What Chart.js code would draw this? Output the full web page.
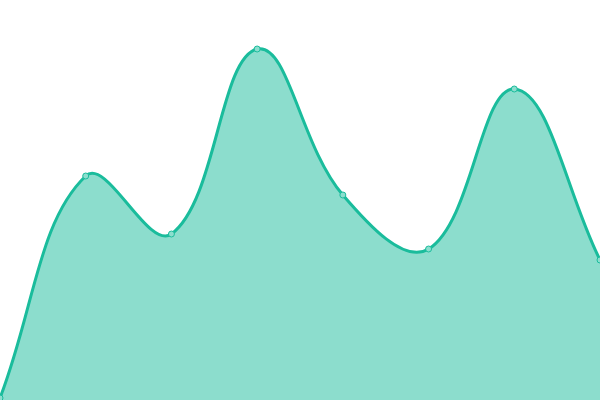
<!DOCTYPE html>
<html>
<head>
<meta charset="utf-8">
<script src="https://cdn.jsdelivr.net/npm/chart.js@4"></script>
<style>
  html, body { margin: 0; padding: 0; background: #fff; }
  #wrap { width: 600px; height: 400px; }
</style>
</head>
<body>
<div id="wrap"><canvas id="AreaChart"></canvas></div>
<script>
// data
var labels = ['1', '2', '3', '4', '5', '6', '7', '8'];
var values = [2, 224, 166, 351, 205, 151, 311, 140];

var lineColor = '#1abc9c';
var fillColor = 'rgba(26, 188, 156, 0.5)';

drawAreaChart();
function drawAreaChart() {
    var ctx = document.getElementById('AreaChart');

    const config = {
        type: 'line',
        data: {
            labels: labels,
            datasets: [{
                data: values,
                borderColor: lineColor,
                backgroundColor: fillColor,
                borderWidth: 3,
                fill: true,
                tension: 0.4,
                pointRadius: 3,
                pointBorderWidth: 1,
                pointBackgroundColor: 'rgba(140, 222, 206, 1)',
                pointBorderColor: lineColor
            }]
        },
        options: {
            responsive: true,
            maintainAspectRatio: false,
            animation: false,
            layout: { padding: 0, autoPadding: false },
            plugins: {
                legend: { display: false },
                tooltip: { enabled: false }
            },
            scales: {
                x: { display: false, offset: false },
                y: { display: false, min: 0, max: 400 }
            }
        }
    };

    var myChart = new Chart(ctx, config);
}
</script>
</body>
</html>
